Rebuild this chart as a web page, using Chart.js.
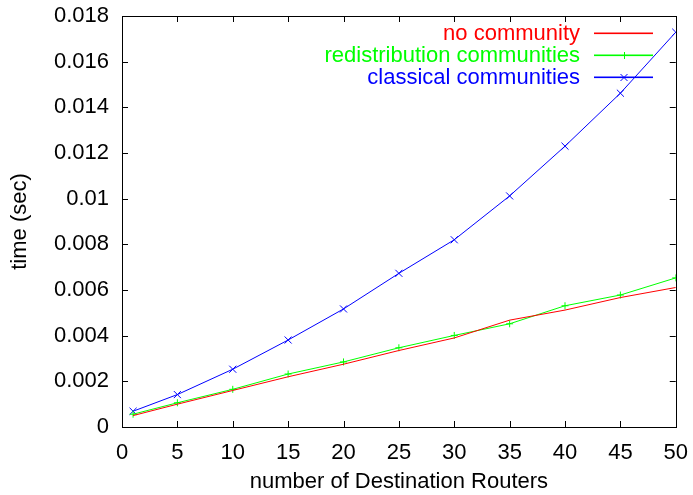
<!DOCTYPE html>
<html lang="en">
<head>
    <meta charset="UTF-8">
    <title>time vs number of Destination Routers</title>
    <script src="https://cdn.jsdelivr.net/npm/chart.js"></script>
    <style>
        html, body { margin: 0; padding: 0; background: #fff; }
        #wrap { width: 693px; height: 495px; }
    </style>
</head>
<body>
<div id="wrap"><canvas id="chart" width="693" height="495"></canvas></div>
<script>
    // data
    const routers = [1, 5, 10, 15, 20, 25, 30, 35, 40, 45, 50];
    const noCommunity = [0.00050, 0.00100, 0.00160, 0.00220, 0.00275, 0.00335, 0.00390, 0.00468, 0.00512, 0.00567, 0.00611];
    const redistribution = [0.00056, 0.00106, 0.00165, 0.00232, 0.00285, 0.00347, 0.00401, 0.00452, 0.00531, 0.00578, 0.00653];
    const classical = [0.00069, 0.00142, 0.00253, 0.00381, 0.00517, 0.00673, 0.00820, 0.01012, 0.01230, 0.01462, 0.01729];
    const seriesNames = ['no community', 'redistribution communities', 'classical communities'];
    const colors = ['#ff0000', '#00ff00', '#0000ff'];

    const FONT = "'Liberation Sans', Arial, sans-serif";

    function pts(ys) {
        return routers.map((x, i) => ({ x: x, y: ys[i] }));
    }

    // gnuplot style frame with inward ticks on all four sides
    const frameTicks = {
        id: 'frameTicks',
        afterDraw(chart) {
            const ctx = chart.ctx;
            const a = chart.chartArea;
            const xs = chart.scales.x, ys = chart.scales.y;
            const len = 6;
            ctx.save();
            ctx.strokeStyle = '#000';
            ctx.lineWidth = 1;
            ctx.strokeRect(Math.round(a.left) + 0.5, Math.round(a.top) + 0.5,
                Math.round(a.right - a.left), Math.round(a.bottom - a.top));
            ctx.beginPath();
            xs.ticks.forEach(t => {
                const px = Math.round(xs.getPixelForValue(t.value)) + 0.5;
                ctx.moveTo(px, a.bottom); ctx.lineTo(px, a.bottom - len);
                ctx.moveTo(px, a.top); ctx.lineTo(px, a.top + len);
            });
            ys.ticks.forEach(t => {
                const py = Math.round(ys.getPixelForValue(t.value)) + 0.5;
                ctx.moveTo(a.left, py); ctx.lineTo(a.left + len, py);
                ctx.moveTo(a.right, py); ctx.lineTo(a.right - len, py);
            });
            ctx.stroke();
            ctx.restore();
        }
    };

    // legend: right-aligned text, sample line on the right
    const keyBox = {
        id: 'keyBox',
        afterDraw(chart) {
            const ctx = chart.ctx;
            const textRight = 580, lineL = 594, lineR = 653, top = 33, step = 22;
            ctx.save();
            ctx.font = '22px ' + FONT;
            ctx.textAlign = 'right';
            ctx.textBaseline = 'middle';
            seriesNames.forEach((name, i) => {
                const y = top + i * step;
                const c = colors[i];
                ctx.fillStyle = c;
                ctx.fillText(name, textRight, y + 1);
                ctx.globalAlpha = 1;
                ctx.fillStyle = c;
                ctx.fillRect(lineL, y - 0.5, lineR - lineL, 1.6);
                const cx = Math.round((lineL + lineR) / 2), r = 3.5;
                ctx.strokeStyle = c;
                ctx.lineWidth = 1;
                ctx.beginPath();
                if (i === 1) {
                    ctx.moveTo(cx + 0.5, y - r + 0.5); ctx.lineTo(cx + 0.5, y + r + 0.5);
                } else if (i === 2) {
                    ctx.moveTo(cx - r, y - r + 0.5); ctx.lineTo(cx + r, y + r + 0.5);
                    ctx.moveTo(cx - r, y + r + 0.5); ctx.lineTo(cx + r, y - r + 0.5);
                }
                ctx.stroke();
            });
            ctx.restore();
        }
    };

    new Chart(document.getElementById('chart'), {
        type: 'line',
        data: {
            datasets: [
                {
                    label: seriesNames[0],
                    data: pts(noCommunity),
                    borderColor: colors[0],
                    borderWidth: 1,
                    pointRadius: 0,
                    pointHoverRadius: 0
                },
                {
                    label: seriesNames[1],
                    data: pts(redistribution),
                    borderColor: colors[1],
                    borderWidth: 1,
                    pointStyle: 'cross',
                    pointRadius: 3.5,
                    pointBorderWidth: 1
                },
                {
                    label: seriesNames[2],
                    data: pts(classical),
                    borderColor: colors[2],
                    borderWidth: 1,
                    pointStyle: 'crossRot',
                    pointRadius: 5,
                    pointBorderWidth: 1
                }
            ]
        },
        options: {
            responsive: false,
            animation: false,
            layout: { padding: { top: 0, right: 13, left: 0, bottom: 0 } },
            plugins: {
                legend: { display: false },
                tooltip: { enabled: false }
            },
            scales: {
                x: {
                    type: 'linear',
                    min: 0,
                    max: 50,
                    ticks: { stepSize: 5, color: '#000', font: { family: FONT, size: 22 }, padding: 5 },
                    grid: { display: false },
                    border: { display: false },
                    title: { display: true, text: 'number of Destination Routers', color: '#000', font: { family: FONT, size: 22 }, padding: { top: 2, bottom: 0 } },
                    afterFit(s) { s.height = 68; }
                },
                y: {
                    min: 0,
                    max: 0.018,
                    ticks: {
                        stepSize: 0.002,
                        color: '#000',
                        font: { family: FONT, size: 22, lineHeight: 1 },
                        padding: 5,
                        callback: v => Number(v.toFixed(3)).toString()
                    },
                    grid: { display: false },
                    border: { display: false },
                    title: { display: true, text: 'time (sec)', color: '#000', font: { family: FONT, size: 22 }, padding: { top: 7, bottom: 0 } },
                    afterFit(s) { s.width = 122; }
                }
            }
        },
        plugins: [frameTicks, keyBox]
    });
</script>
</body>
</html>
